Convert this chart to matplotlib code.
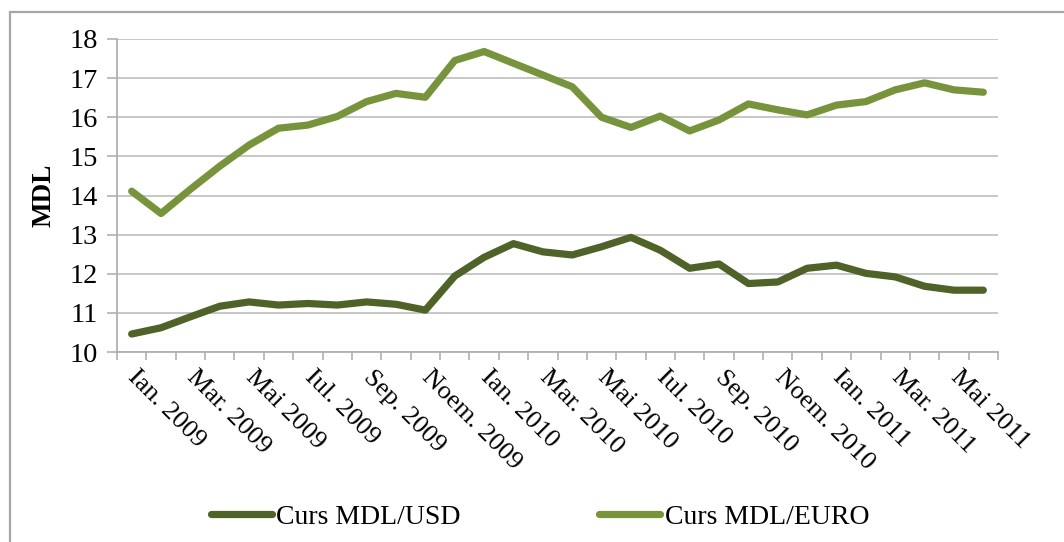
import numpy as np
import matplotlib
matplotlib.use("Agg")
import matplotlib.pyplot as plt
from matplotlib.patches import Rectangle

# monthly exchange rates, Jan 2009 .. Jun 2011 (30 months)
months = ["Ian. 2009", "Feb. 2009", "Mar. 2009", "Apr. 2009", "Mai 2009", "Iun. 2009",
          "Iul. 2009", "Aug. 2009", "Sep. 2009", "Oct. 2009", "Noem. 2009", "Dec. 2009",
          "Ian. 2010", "Feb. 2010", "Mar. 2010", "Apr. 2010", "Mai 2010", "Iun. 2010",
          "Iul. 2010", "Aug. 2010", "Sep. 2010", "Oct. 2010", "Noem. 2010", "Dec. 2010",
          "Ian. 2011", "Feb. 2011", "Mar. 2011", "Apr. 2011", "Mai 2011", "Iun. 2011"]
usd = [10.46, 10.62, 10.90, 11.17, 11.28, 11.20, 11.24, 11.20, 11.28, 11.22,
       11.07, 11.94, 12.42, 12.77, 12.56, 12.48, 12.69, 12.93, 12.60, 12.14,
       12.25, 11.75, 11.79, 12.14, 12.22, 12.01, 11.92, 11.68, 11.58, 11.58]
euro = [14.11, 13.54, 14.16, 14.75, 15.29, 15.72, 15.80, 16.02, 16.40, 16.61,
        16.51, 17.45, 17.68, 17.38, 17.08, 16.78, 16.00, 15.74, 16.03, 15.65,
        15.93, 16.34, 16.19, 16.06, 16.31, 16.40, 16.70, 16.88, 16.70, 16.64]
label_every = 2

C_USD = "#4f6228"
C_EURO = "#77933c"
GRID = "#c3c3c3"
SERIF = ["Liberation Serif", "DejaVu Serif"]

plt.rcParams["font.family"] = SERIF
fig = plt.figure(figsize=(10.64, 5.42), dpi=100)
W, H = 1064, 542
ax = fig.add_axes([117 / W, 1 - 352 / H, (998 - 117) / W, (352 - 39) / H])

# outer frame (right / bottom edges fall outside the picture)
fig.patches.append(Rectangle((10 / W, -0.1), 1.2, 1 - 12 / H + 0.1, transform=fig.transFigure,
                             fill=False, ec="#a6a6a6", lw=1.6))

x = np.arange(len(months))
ax.plot(x, usd, color=C_USD, lw=5.2, solid_capstyle="round", solid_joinstyle="round",
        label="Curs MDL/USD")
ax.plot(x, euro, color=C_EURO, lw=5.2, solid_capstyle="round", solid_joinstyle="round",
        label="Curs MDL/EURO")

ax.set_xlim(-0.5, len(months) - 0.5)
ax.set_ylim(10, 18)
ax.set_yticks(np.arange(10, 19, 1))
ax.yaxis.grid(True, color=GRID, lw=1.3)
ax.set_axisbelow(True)
for s in ("top", "right"):
    ax.spines[s].set_visible(False)
for s in ("left", "bottom"):
    ax.spines[s].set_color("#b0b0b0")
    ax.spines[s].set_linewidth(1.3)

# tick marks on the category boundaries, labels on every 2nd month
ax.set_xticks(np.arange(-0.5, len(months)), [""] * (len(months) + 1))
ax.set_xticks(x[::label_every], months[::label_every], minor=True)
ax.tick_params(axis="x", which="major", length=6, color="#b0b0b0", width=1.2)
ax.tick_params(axis="x", which="minor", length=0, pad=16)
ax.tick_params(axis="y", length=7, color="#b0b0b0", width=1.2, labelsize=20.5, pad=7)
for t in ax.get_xticklabels(minor=True):
    t.set_rotation(-45)
    t.set_rotation_mode("anchor")
    t.set_ha("left")
    t.set_va("center")
    t.set_fontsize(19)

ax.set_ylabel("MDL", fontsize=19.5, fontweight="bold", labelpad=9)

ax.legend(loc="center", bbox_to_anchor=(0.48, (352 - 517) / (352 - 39)),
          ncol=2, frameon=False, fontsize=20, handlelength=2.2, handletextpad=0.15,
          columnspacing=5.0)

fig.savefig("out.png", dpi=100)
